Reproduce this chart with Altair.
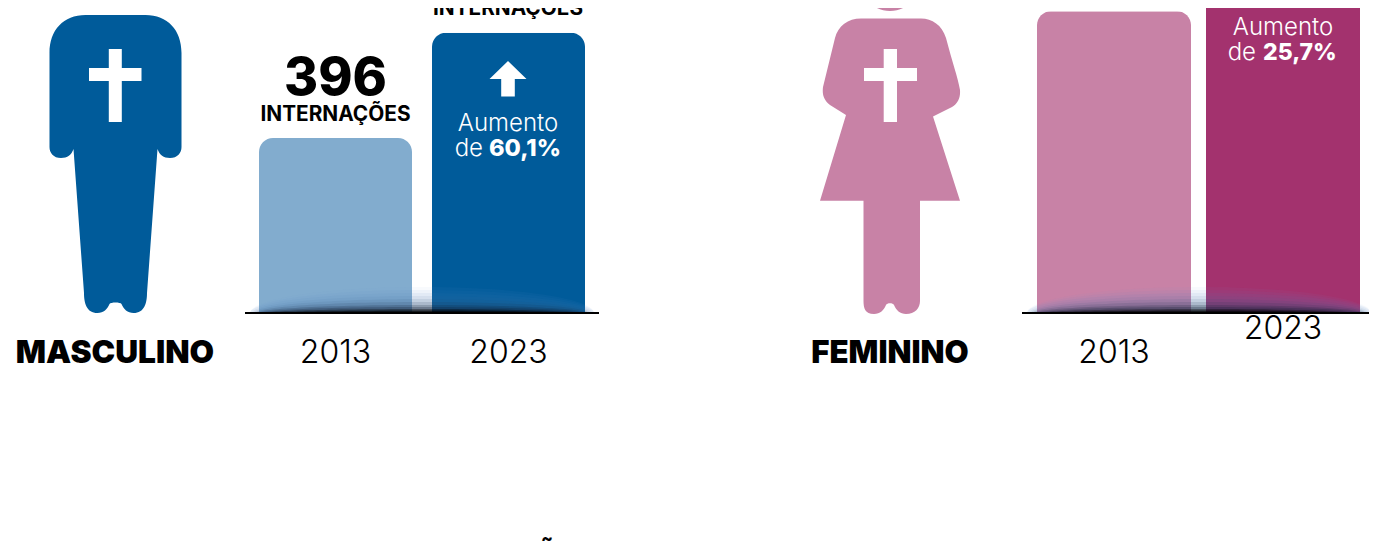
import altair as alt
import pandas as pd

YEARS = ["2013", "2023"]
MALE_VALUES = [396, 634]
FEMALE_VALUES = [683, 859]
MALE_COLORS = ["#82ACCE", "#005B9A"]
FEMALE_COLORS = ["#C882A6", "#A3326E"]

FONT = "Inter"
W, H = 1361, 533
BASE = 313  # page y of the baseline
OFF = 8     # page margin


def px(v):
    return alt.value(v - OFF)


yscale = alt.Scale(domain=[0, 690.2], range=[BASE - OFF, 0], nice=False, zero=False)
Y = alt.Y("v:Q", scale=yscale, axis=None)
one = pd.DataFrame({"v": [0]})

MALE_BODY = (
    "M0,-298 L-30,-298 C-52,-298 -66,-283 -66,-260 L-66,-166 C-66,-160 -62,-155 -54.5,-155 "
    "C-48,-155 -44,-158 -42,-164 L-31.5,-20 C-31.5,-10 -29,0 -18,0 C-12,0 -8,-4 -6,-9 "
    "C-5,-11 5,-11 6,-9 C8,-4 12,0 18,0 C29,0 31.5,-10 31.5,-20 L42,-164 C44,-158 48,-155 54.5,-155 "
    "C62,-155 66,-160 66,-166 L66,-260 C66,-283 52,-298 30,-298 Z "
    "M-30,-335 A30,30 0 1 0 30,-335 A30,30 0 1 0 -30,-335 Z"
)
FEMALE_BODY = (
    "M-29,-294.5 L31,-294.5 C42,-294.5 52,-288 56,-275 C62,-252 68,-235 70,-223 C70.5,-215 68,-210 62,-206 "
    "L43,-196.5 L70,-112.3 L30,-112.3 L30,-12 C30,-5 25,1 16,1 C10,1 6,-3 4,-8 C3,-10.5 -3,-10.5 -4,-8 "
    "C-6,-3 -10,1 -16,1 C-25,1 -26.5,-5 -26.5,-12 L-26.5,-112.3 L-70,-112.3 L-44,-198 L-60,-208 "
    "C-66,-213 -68,-218 -67,-226 L-55,-275 C-52,-287 -42,-294.5 -29,-294.5 Z "
    "M-30,-332 A30,30 0 1 0 30,-332 A30,30 0 1 0 -30,-332 Z"
)
MALE_CROSS = "M-6.7,-264 L6.3,-264 L6.3,-245 L26,-245 L26,-232 L6.3,-232 L6.3,-191 L-6.7,-191 L-6.7,-232 L-26.5,-232 L-26.5,-245 L-6.7,-245 Z"
FEMALE_CROSS = "M-6.3,-264 L7,-264 L7,-245 L27,-245 L27,-232 L7,-232 L7,-191 L-6.3,-191 L-6.3,-232 L-26,-232 L-26,-245 L-6.3,-245 Z"
ARROW = "M0,-252 L18.5,-234 L6.8,-234 L6.8,-216.5 L-6.8,-216.5 L-6.8,-234 L-18.5,-234 Z"

SHADE = [
    (26, 172, "#6f9fd6", 0.05), (23, 172, "#5b8fc9", 0.06), (20, 172, "#4a7cb5", 0.07),
    (17, 170, "#3a6496", 0.08), (14, 168, "#2a4a75", 0.10), (11, 166, "#1a3050", 0.14),
    (8, 164, "#101c30", 0.20), (6, 160, "#101c30", 0.25),
    (4, 155, "#000000", 0.35), (2.5, 140, "#000000", 0.50), (1.5, 120, "#000000", 0.60),
]


def icon(path, page_x, color, opacity=1):
    return alt.Chart(one).mark_point(
        shape=path, size=4, filled=True, fill=color, opacity=opacity, strokeWidth=0
    ).encode(x=px(page_x), y=Y)


def label(text, page_x, page_y, size, weight, color="#000000", align="center"):
    return alt.Chart(pd.DataFrame({"t": [text]})).mark_text(
        font=FONT, fontSize=size, fontWeight=weight, color=color, align=align, baseline="alphabetic"
    ).encode(x=px(page_x), y=px(page_y), text="t:N")


def panel(values, colors, xr, pad, year_y, word, word_x, word_size, body, cross, cx, rule_x):
    df = pd.DataFrame({"year": YEARS, "v": values, "c": colors, "yy": year_y})
    X = alt.X("year:N", scale=alt.Scale(domain=YEARS, range=xr, paddingInner=pad, paddingOuter=0), axis=None)
    bars = alt.Chart(df).mark_bar(cornerRadiusTopLeft=14, cornerRadiusTopRight=14).encode(
        x=X, y=Y, color=alt.Color("c:N", scale=None)
    )
    shade = [
        icon(f"M{-rx},0 A{rx},{ry} 0 0 1 {rx},0 Z", (rule_x[0] + rule_x[1]) / 2, col, op)
        for ry, rx, col, op in SHADE
    ]
    rule = alt.Chart(one).mark_rule(color="#000000", size=2).encode(
        x=px(rule_x[0]), x2=px(rule_x[1]), y=Y
    )
    year_labels = alt.Chart(df).mark_text(
        font=FONT, fontSize=32, fontWeight=300, color="#000000", baseline="alphabetic"
    ).encode(x=X, y=alt.Y("yy:Q", scale=None), text="year:N")
    return alt.layer(
        bars, *shade, rule, year_labels,
        icon(body, cx, colors[1] if colors is MALE_COLORS else colors[0]),
        icon(cross, cx, "#FFFFFF"),
        label(word, word_x, 363, word_size, 900),
    )


left = panel(MALE_VALUES, MALE_COLORS, [251, 577], 20 / 173, [363 - OFF, 363 - OFF],
             "MASCULINO", 115, 31.7, MALE_BODY, MALE_CROSS, 115.5, (245, 599))
right = panel(FEMALE_VALUES, FEMALE_COLORS, [1029, 1352], 15 / 169, [363 - OFF, 339 - OFF],
              "FEMININO", 890, 31.2, FEMALE_BODY, FEMALE_CROSS, 890, (1022, 1376))

texts = alt.layer(
    label("396", 335.5, 95, 52, 800),
    label("INTERNAÇÕES", 335.5, 121, 20.8, 700),
    label("INTERNAÇÕES", 508, 15, 20.8, 700),
    icon(ARROW, 508, "#FFFFFF"),
    label("Aumento", 508, 131, 24, 300, "#FFFFFF"),
    label("de", 483, 156, 24, 300, "#FFFFFF", "right"),
    label("60,1%", 489, 156, 23.6, 800, "#FFFFFF", "left"),
    label("Aumento", 1283, 35, 24, 300, "#FFFFFF"),
    label("de", 1256, 60, 24, 300, "#FFFFFF", "right"),
    label("25,7%", 1263, 60, 23, 800, "#FFFFFF", "left"),
    label("Õ", 547, 564, 28, 700),
)

chart = (
    alt.layer(left, right, texts)
    .resolve_scale(x="independent")
    .properties(
        width=W, height=H, padding=0,
        autosize=alt.AutoSizeParams(type="none"),
        background="#FFFFFF",
    )
    .configure_view(stroke=None)
)

chart.save("out.html", embed_options={"renderer": "svg", "actions": False})
